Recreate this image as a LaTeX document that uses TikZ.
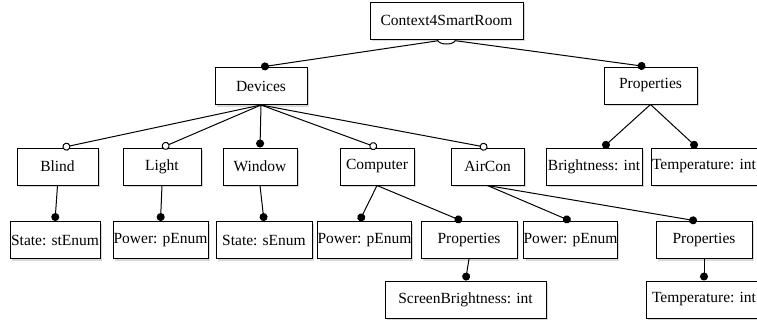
\documentclass[tikz,border=0pt]{standalone}
\usepackage{fontspec}
\setmainfont{Liberation Serif}
\usetikzlibrary{arrows.meta,shadows}

\tikzset{
  mand/.style={-{Circle[length=8pt]}},
  opt/.style={-{Circle[open,length=8pt,fill=white]}},
}

\begin{document}
\begin{tikzpicture}[x=1pt,y=-1pt,line width=1pt]

        \useasboundingbox (0,0) rectangle (757,325);

        \begin{scope}[every node/.style={draw, fill=white, rectangle, inner sep=0pt,
            minimum height=37pt, font=\fontsize{15.5}{18}\selectfont,
            drop shadow={shadow xshift=2pt, shadow yshift=-2pt, opacity=.3}}]
          \node[minimum width=153pt] (root)    at (446.5,20.5) {Context4SmartRoom};
          \node[minimum width=92pt]  (dev)     at (261,86)     {Devices};
          \node[minimum width=93pt]  (prop)    at (650.5,85.5) {Properties};

          \node[minimum width=81pt]  (blind)   at (57.5,166.5) {Blind};
          \node[minimum width=78pt]  (light)   at (162,166.5)  {Light};
          \node[minimum width=74pt]  (window)  at (260,166.5)  {Window};
          \node[minimum width=74pt]  (comp)    at (377,166.5)  {Computer};
          \node[minimum width=73pt]  (aircon)  at (487.5,166.5){AirCon};
          \node[minimum width=96pt]  (bright)  at (594,166.5)  {Brightness: int};
          \node[minimum width=106pt] (temp)    at (704,166.5)  {Temperature: int};

          \node[minimum width=90pt]  (bstate)  at (55,240)     {State: stEnum};
          \node[minimum width=95pt]  (lpower)  at (160.5,240)  {Power: pEnum};
          \node[minimum width=96pt]  (wstate)  at (264,240)    {State: sEnum};
          \node[minimum width=93pt]  (cpower)  at (364.5,240)  {Power: pEnum};
          \node[minimum width=96pt]  (cprop)   at (469,240)    {Properties};
          \node[minimum width=93pt]  (apower)  at (570.5,240)  {Power: pEnum};
          \node[minimum width=96pt]  (aprop)   at (704,240)    {Properties};

          \node[minimum width=161pt] (sbright) at (465.5,299.5){ScreenBrightness: int};
          \node[minimum width=116pt] (atemp)   at (704,299.5)  {Temperature: int};
        \end{scope}

        \begin{scope}[every edge/.style={draw}]
          \path (root.south) edge[mand] ([xshift=-5pt]prop.north);
          \path (root.south) edge[mand] (dev.north);

          \path (dev.south) edge[opt]  ([xshift=5pt]blind.north);
          \path (dev.south) edge[opt]  (light.north);
          \path (dev.south) edge[mand] (window.north);
          \path (dev.south) edge[opt]  (comp.north);
          \path (dev.south) edge[opt]  (aircon.north);

          \path (prop.south) edge[mand] ([xshift=9pt]bright.north);
          \path (prop.south) edge[mand] ([xshift=-7pt]temp.north);

          \path (blind.south)  edge[mand] (bstate.north);
          \path (light.south)  edge[mand] (lpower.north);
          \path (window.south) edge[mand] (wstate.north);
          \path (comp.south)   edge[mand] ([xshift=-5pt]cpower.north);
          \path (comp.south)   edge[mand] ([xshift=-7pt]cprop.north);
          \path (aircon.south) edge[mand] (apower.north);
          \path (aircon.south) edge[mand] ([xshift=-7pt]aprop.north);

          \path (cprop.south) edge[mand] (sbright.north);
          \path (aprop.south) edge[mand] (atemp.north);
        \end{scope}

        % group arc under the root
        \draw[fill=white] ([xshift=-9pt]root.south) .. controls +(0,6) and +(0,6) .. ([xshift=9pt]root.south);

      \end{tikzpicture}
\end{document}
